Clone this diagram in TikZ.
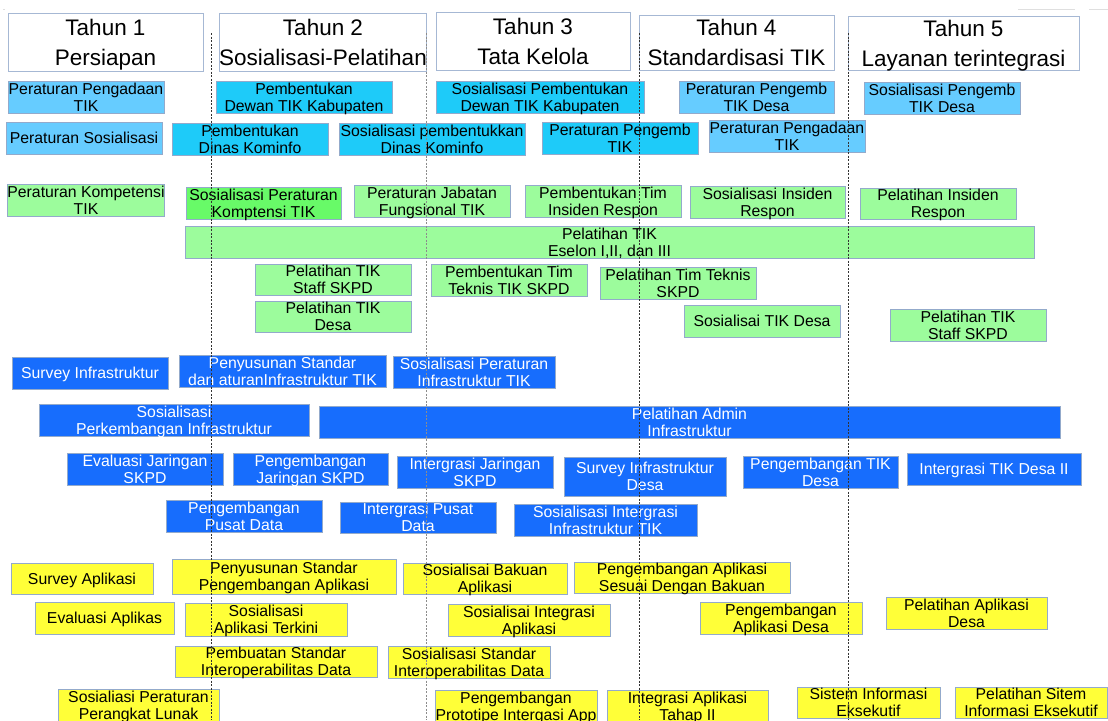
\documentclass[tikz,border=0pt]{standalone}
\usepackage{fontspec}
\setmainfont{Liberation Sans}
\definecolor{edgeblue}{HTML}{93AACB}
\definecolor{headedge}{HTML}{A6B8D4}
\definecolor{lightblue}{HTML}{66CCFF}
\definecolor{skyblue}{HTML}{1ECBF9}
\definecolor{palegreen}{HTML}{9CFC9C}
\definecolor{brightgreen}{HTML}{68FA68}
\definecolor{deepblue}{HTML}{176DFD}
\definecolor{lemon}{HTML}{FFFF38}
\begin{document}
\begin{tikzpicture}[x=1pt,y=-1pt,
    box/.style={draw=edgeblue,line width=0.7pt,inner sep=0pt,align=center,
      font=\fontsize{15.8}{17.3}\selectfont,text height=28.6pt,text depth=0pt},
    oneline/.style={text height=11.3pt},
    sz/.style 2 args={minimum width=#1pt,minimum height=#2pt},
    head/.style={draw=headedge,line width=0.7pt,fill=white,inner sep=0pt,align=center,
      font=\fontsize{22.5}{30}\selectfont,text height=46.1pt,text depth=0pt},
    regbox/.style={box,fill=lightblue},
    orgbox/.style={box,fill=skyblue},
    hrbox/.style={box,fill=palegreen},
    hrkey/.style={box,fill=brightgreen},
    infbox/.style={box,fill=deepblue,text=white},
    appbox/.style={box,fill=lemon}]
  \useasboundingbox (0,0) rectangle (1108,720);
  \clip (0,0) rectangle (1108,720);
  % faint marks at the top
  \draw[gray!25] (3,9) -- (5,9) (1018,9) -- (1075,9) (1089,9) -- (1108,9);
  % Year headers
  \node[head,sz={195}{58}] (year1) at (105.5,42) {Tahun 1\\Persiapan};
  \node[head,sz={206}{58}] (year2) at (323,42) {Tahun 2\\Sosialisasi-Pelatihan};
  \node[head,sz={194}{58}] (year3) at (533,41) {Tahun 3\\Tata Kelola};
  \node[head,sz={195}{55}] (year4) at (736.5,42.5) {Tahun 4\\Standardisasi TIK};
  \node[head,sz={231}{54}] (year5) at (963.5,43) {Tahun 5\\Layanan terintegrasi};
  % Regulation and organisation
  \node[regbox,sz={156}{32}] (pengadaan) at (86,97) {Peraturan Pengadaan\\TIK};
  \node[orgbox,sz={176}{32}] (dewan) at (304,97) {Pembentukan\\Dewan TIK Kabupaten};
  \node[orgbox,sz={208}{32}] (sosdewan) at (540,97) {Sosialisasi Pembentukan\\Dewan TIK Kabupaten};
  \node[regbox,sz={155}{32}] (pengembdesa) at (756.5,97) {Peraturan Pengemb\\TIK Desa};
  \node[regbox,sz={156}{32}] (sospengemb) at (942,98) {Sosialisasi Pengemb\\TIK Desa};
  \node[regbox,oneline,sz={156}{32}] (persos) at (84,138) {Peraturan Sosialisasi};
  \node[orgbox,sz={156}{32}] (dinas) at (250,139) {Pembentukan\\Dinas Kominfo};
  \node[orgbox,sz={186}{32}] (sosdinas) at (432,139) {Sosialisasi pembentukkan\\Dinas Kominfo};
  \node[orgbox,sz={156}{32}] (pengembtik) at (620,138) {Peraturan Pengemb\\TIK};
  \node[regbox,sz={156}{32}] (pengadaan2) at (787,136) {Peraturan Pengadaan\\TIK};
  % Human resources
  \node[hrbox,sz={156}{32}] (kompetensi) at (86,200) {Peraturan Kompetensi\\TIK};
  \node[hrkey,sz={155}{32}] (soskomp) at (263.5,203) {Sosialisasi Peraturan\\Komptensi TIK};
  \node[hrbox,sz={156}{32}] (jabatan) at (432,201) {Peraturan Jabatan\\Fungsional TIK};
  \node[hrbox,sz={156}{32}] (timinsiden) at (603,201) {Pembentukan Tim\\Insiden Respon};
  \node[hrbox,sz={155}{32}] (sosinsiden) at (767.5,202) {Sosialisasi Insiden\\Respon};
  \node[hrbox,sz={156}{31}] (pelinsiden) at (938,203.5) {Pelatihan Insiden\\Respon};
  \node[hrbox,sz={849}{32}] (eselon) at (609.5,242) {Pelatihan TIK\\Eselon I,II, dan III};
  \node[hrbox,sz={156}{31}] (staff1) at (333,279.5) {Pelatihan TIK\\Staff SKPD};
  \node[hrbox,sz={156}{31}] (desa1) at (333,316.5) {Pelatihan TIK\\Desa};
  \node[hrbox,sz={156}{32}] (timteknis) at (509,280) {Pembentukan Tim\\Teknis TIK SKPD};
  \node[hrbox,sz={156}{32}] (pelteknis) at (678,283) {Pelatihan Tim Teknis\\SKPD};
  \node[hrbox,oneline,sz={156}{32}] (sosdesa) at (762,321) {Sosialisai TIK Desa};
  \node[hrbox,sz={156}{32}] (staff2) at (968,325) {Pelatihan TIK\\Staff SKPD};
  % Infrastructure
  \node[infbox,oneline,sz={156}{32}] (survinfra) at (90,373) {Survey Infrastruktur};
  \node[infbox,sz={207}{32}] (stdinfra) at (282.5,371) {Penyusunan Standar\\dan aturanInfrastruktur TIK};
  \node[infbox,sz={162}{32}] (sosinfra) at (474,372) {Sosialisasi Peraturan\\Infrastruktur TIK};
  \node[infbox,sz={270}{32}] (perkembangan) at (174,420) {Sosialisasi\\Perkembangan Infrastruktur};
  \node[infbox,sz={741}{32}] (admin) at (689.5,422) {Pelatihan Admin\\Infrastruktur};
  \node[infbox,sz={156}{32}] (evaljar) at (145,469) {Evaluasi Jaringan\\SKPD};
  \node[infbox,sz={155}{32}] (pengjar) at (310.5,469) {Pengembangan\\Jaringan SKPD};
  \node[infbox,sz={156}{32}] (intjar) at (475,472) {Intergrasi Jaringan\\SKPD};
  \node[infbox,sz={162}{39}] (survdesa) at (645,476.5) {Survey Infrastruktur\\Desa};
  \node[infbox,sz={155}{32}] (pengdesa) at (820.5,472) {Pengembangan TIK\\Desa};
  \node[infbox,oneline,sz={174}{32}] (intdesa) at (994,469) {Intergrasi TIK Desa II};
  \node[infbox,sz={156}{32}] (pengpusat) at (244,516) {Pengembangan\\Pusat Data};
  \node[infbox,sz={156}{31}] (intpusat) at (418,517.5) {Intergrasi Pusat\\Data};
  \node[infbox,sz={183}{32}] (sosintinfra) at (605.5,520) {Sosialisasi Intergrasi\\Infrastruktur TIK};
  % Applications
  \node[appbox,oneline,sz={142}{31}] (survapl) at (82,578.5) {Survey Aplikasi};
  \node[appbox,sz={224}{35}] (stdapl) at (284,576.5) {Penyusunan Standar\\Pengembangan Aplikasi};
  \node[appbox,sz={164}{31}] (bakuan) at (485,578.5) {Sosialisai Bakuan\\Aplikasi};
  \node[appbox,sz={216}{31}] (sesuai) at (682,577.5) {Pengembangan Aplikasi\\Sesuai Dengan Bakuan};
  \node[appbox,oneline,sz={139}{32}] (evalapl) at (104.5,618) {Evaluasi Aplikas};
  \node[appbox,sz={162}{33}] (terkini) at (266,619.5) {Sosialisasi\\Aplikasi Terkini};
  \node[appbox,sz={162}{32}] (intapl) at (529,620) {Sosialisai Integrasi\\Aplikasi};
  \node[appbox,sz={162}{32}] (apldesa) at (781,618) {Pengembangan\\Aplikasi Desa};
  \node[appbox,sz={161}{32}] (pelapl) at (966.5,613) {Pelatihan Aplikasi\\Desa};
  \node[appbox,sz={202}{31}] (interop) at (276,661.5) {Pembuatan Standar\\Interoperabilitas Data};
  \node[appbox,sz={162}{32}] (sosinterop) at (469,662) {Sosialisasi Standar\\Interoperabilitas Data};
  \node[appbox,sz={161}{32}] (lunak) at (138.5,705) {Sosialiasi Peraturan\\Perangkat Lunak};
  \node[appbox,sz={162}{32}] (prototipe) at (516,706) {Pengembangan\\Prototipe Intergasi App};
  \node[appbox,sz={161}{32}] (tahap) at (687.5,706) {Integrasi Aplikasi\\Tahap II};
  \node[appbox,sz={143}{31}] (eis) at (868.5,702.5) {Sistem Informasi\\Eksekutif};
  \node[appbox,sz={152}{31}] (peleis) at (1031,702.5) {Pelatihan Sitem\\Informasi Eksekutif};
  % Year separators
  \foreach \x/\shade in {211/80,426/45,639/80,848/80} {
    \draw[black!\shade,line width=0.7pt,dash pattern=on 2pt off 1.5pt] (\x,33) -- (\x,720);
  }
\end{tikzpicture}
\end{document}
